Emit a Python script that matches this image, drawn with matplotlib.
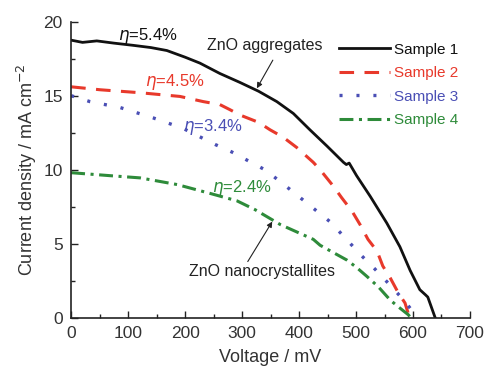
"""
J-V curves of four ZnO photoanode samples.
"""

import matplotlib
matplotlib.use('Agg')
import matplotlib.pyplot as plt
from matplotlib.ticker import MultipleLocator

plt.rcParams['font.family'] = ['Liberation Sans', 'DejaVu Sans']
plt.rcParams['lines.scale_dashes'] = False

# Sample 1 (ZnO aggregates)
v1 = [0, 20, 45, 75, 109, 140, 168, 200, 226, 261, 296, 329, 361, 390, 419, 449, 478,
      483, 488, 501, 525, 554, 577, 595, 612, 622, 626, 639]
j1 = [18.75, 18.6, 18.7, 18.55, 18.4, 18.25, 18.05, 17.6, 17.2, 16.5, 15.9, 15.3, 14.6,
      13.8, 12.7, 11.6, 10.5, 10.35, 10.45, 9.6, 8.2, 6.4, 4.8, 3.2, 1.9, 1.55, 1.4, 0.0]

# Sample 2
v2 = [0, 51, 121, 191, 232, 261, 279, 296, 329, 349, 372, 396, 425, 437, 460, 475, 493,
      507, 521, 537, 547, 560, 574, 586, 594]
j2 = [15.6, 15.4, 15.2, 14.95, 14.6, 14.4, 14.05, 13.7, 13.2, 12.7, 12.2, 11.5, 10.5,
      10.0, 8.9, 8.1, 7.2, 6.3, 5.3, 4.5, 3.5, 2.7, 1.7, 1.0, 0.0]

# Sample 3
v3 = [0, 33, 86, 144, 196, 253, 282, 311, 340, 367, 396, 425, 454, 481, 507, 533, 560, 586, 608]
j3 = [15.0, 14.6, 14.2, 13.5, 12.8, 11.7, 11.2, 10.6, 10.0, 9.2, 8.3, 7.4, 6.5, 5.4, 4.3,
      3.3, 2.2, 1.1, 0.0]

# Sample 4 (ZnO nanocrystallites)
v4 = [0, 68, 121, 186, 244, 291, 323, 367, 425, 437, 484, 501, 519, 539, 560, 574, 592, 596]
j4 = [9.8, 9.6, 9.45, 9.0, 8.4, 7.9, 7.3, 6.3, 5.3, 4.9, 3.9, 3.4, 2.8, 2.1, 1.2, 0.75, 0.2, 0.0]

labels = ['Sample 1', 'Sample 2', 'Sample 3', 'Sample 4']
colors = ['#111111', '#e8392b', '#4a4fb5', '#2e8b3a']
efficiencies = ['5.4%', '4.5%', '3.4%', '2.4%']

fig = plt.figure(figsize=(4.84, 3.67), dpi=100)
ax = fig.add_axes([0.147, 0.134, 0.824, 0.807])

ax.plot(v1, j1, color=colors[0], lw=2.0, label=labels[0])
ax.plot(v2, j2, color=colors[1], lw=2.2, linestyle=(0, (10.5, 7.5)), label=labels[1])
ax.plot(v3, j3, color=colors[2], lw=2.4, linestyle=(0, (2.2, 10)), label=labels[2])
ax.plot(v4, j4, color=colors[3], lw=2.2, linestyle=(0, (10, 4, 2.2, 4)), label=labels[3])

# efficiency labels
eta_pos = [(134, 19.0), (182, 15.9), (248, 12.9), (300, 8.8)]
for (x, y), eff, c in zip(eta_pos, efficiencies, colors):
    ax.text(x, y, r'$\eta$=' + eff, color=c, fontsize=12, ha='center', va='center')

# sample-type labels with arrows
ax.text(339, 18.4, 'ZnO aggregates', ha='center', va='center', fontsize=11.5, color='#222222')
ax.annotate('', xy=(326, 15.5), xytext=(354, 17.4),
            arrowprops=dict(arrowstyle='-|>', color='#222222', lw=0.8,
                            shrinkA=0, shrinkB=0, mutation_scale=8))
ax.text(335, 3.1, 'ZnO nanocrystallites', ha='center', va='center', fontsize=11.5, color='#222222')
ax.annotate('', xy=(353, 6.5), xytext=(310, 3.8),
            arrowprops=dict(arrowstyle='-|>', color='#222222', lw=0.8,
                            shrinkA=0, shrinkB=0, mutation_scale=8))

leg = ax.legend(loc='upper right', bbox_to_anchor=(0.985, 0.95), frameon=False,
                fontsize=11, handlelength=3.3, handletextpad=0.25,
                labelspacing=0.62, borderaxespad=0.0)
for text, c in zip(leg.get_texts(), colors):
    text.set_color(c)

ax.set_xlim(0, 700)
ax.set_ylim(0, 20)
ax.xaxis.set_major_locator(MultipleLocator(100))
ax.xaxis.set_minor_locator(MultipleLocator(50))
ax.yaxis.set_major_locator(MultipleLocator(5))
ax.yaxis.set_minor_locator(MultipleLocator(2.5))
ax.tick_params(which='both', direction='in', colors='#222222', labelcolor='#333333',
               labelsize=12.5, width=1.0, pad=6)
ax.tick_params(which='major', length=5)
ax.tick_params(which='minor', length=3)
ax.spines['top'].set_visible(False)
ax.spines['right'].set_visible(False)
for s in ['left', 'bottom']:
    ax.spines[s].set_color('#222222')
    ax.spines[s].set_linewidth(1.2)

ax.set_xlabel('Voltage / mV', fontsize=13, color='#333333', labelpad=6)
ax.set_ylabel('Current density / mA cm$^{-2}$', fontsize=13, color='#333333', labelpad=3)

fig.savefig('out.png', dpi=100, facecolor='white')
